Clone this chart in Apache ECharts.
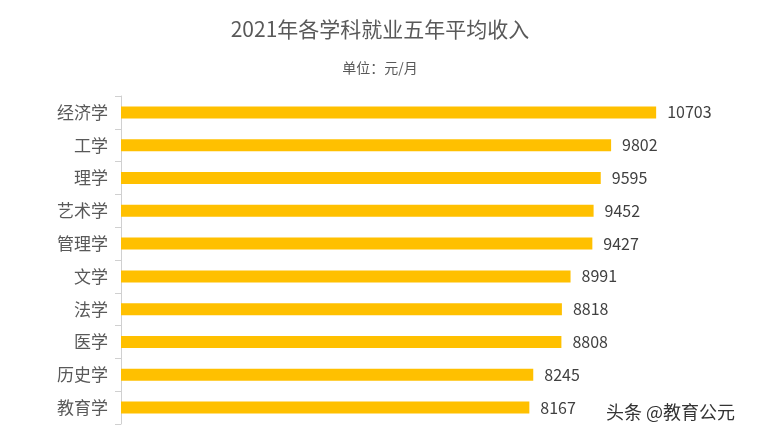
<!DOCTYPE html>
<html><head><meta charset="utf-8">
<script src="https://cdn.jsdelivr.net/npm/echarts@6/dist/echarts.min.js"></script>
<style>html,body{margin:0;padding:0;background:#fff}#c{width:760px;height:437px}</style>
</head><body><div id="c"></div>
<script>
const categories = ['经济学','工学','理学','艺术学','管理学','文学','法学','医学','历史学','教育学'];
const values = [10703, 9802, 9595, 9452, 9427, 8991, 8818, 8808, 8245, 8167];
const titleText = '2021年各学科就业五年平均收入';
const subtitleText = '单位：元/月';
const watermark = '头条 @教育公元';
const font = '"Noto Sans CJK SC", "Noto Sans", sans-serif';
const chart = echarts.init(document.getElementById('c'));
chart.setOption({
  animation: false,
  title: {
    text: titleText, subtext: subtitleText, left: 'center', top: 14, itemGap: 21,
    textStyle: {fontFamily: font, fontSize: 21, fontWeight: 'normal', color: '#595959'},
    subtextStyle: {fontFamily: font, fontSize: 14, color: '#595959'}
  },
  grid: {left: 121, top: 96, width: 600, height: 328},
  xAxis: {type: 'value', min: 0, max: 12000, show: false},
  yAxis: {
    type: 'category', data: categories, inverse: true,
    axisLine: {show: true, lineStyle: {color: '#d0d0d0'}},
    axisTick: {show: true, length: 6, lineStyle: {color: '#d0d0d0'}},
    axisLabel: {fontFamily: font, fontSize: 17, color: '#595959', margin: 13},
    splitLine: {show: false}
  },
  series: [{
    type: 'bar', data: values, barWidth: 12,
    itemStyle: {color: '#FFC000'},
    label: {show: true, position: 'right', distance: 11, fontFamily: font, fontSize: 16, color: '#404040'}
  }],
  graphic: [{
    type: 'text', left: 606, top: 403,
    style: {text: watermark, font: '18px ' + font, fill: '#333'}
  }]
});
</script></body></html>
